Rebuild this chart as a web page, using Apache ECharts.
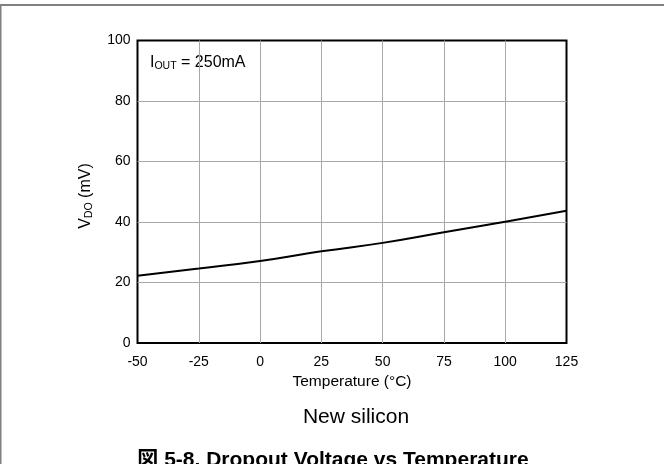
<!DOCTYPE html>
<html>
<head>
<meta charset="utf-8">
<script src="https://cdn.jsdelivr.net/npm/echarts@6/dist/echarts.min.js"></script>
<style>
html,body{margin:0;padding:0;background:#fff;}
#chart{width:664px;height:464px;}
</style>
</head>
<body>
<div id="chart"></div>
<script>
// data
let temps = [-50, -25, 0, 25, 50, 75, 100, 125];
let vdo = [22.2, 24.6, 27.1, 30.3, 33.1, 36.6, 40.1, 43.7];

let myChar = echarts.init(document.getElementById("chart"));
let font = "Liberation Sans, Arial, sans-serif";

myChar.setOption({
    backgroundColor: "#fff",
    animation: false,
    grid: {
        left: 137.5,
        right: 97.5,
        top: 40.5,
        bottom: 121,
        show: true,
        borderColor: "#000",
        borderWidth: 2
    },
    xAxis: {
        type: "value",
        min: -50,
        max: 125,
        interval: 25,
        name: "Temperature (°C)",
        nameLocation: "middle",
        nameGap: 30,
        nameTextStyle: {fontFamily: font, fontSize: 15.5, color: "#000"},
        axisLine: {show: false},
        axisTick: {show: false},
        axisLabel: {fontFamily: font, fontSize: 14, color: "#000", margin: 12},
        splitLine: {show: true, showMinLine: false, showMaxLine: false, lineStyle: {color: "#a8a8a8", width: 1}}
    },
    yAxis: {
        type: "value",
        min: 0,
        max: 100,
        interval: 20,
        axisLine: {show: false},
        axisTick: {show: false},
        axisLabel: {fontFamily: font, fontSize: 14, color: "#000", margin: 7},
        splitLine: {show: true, showMinLine: false, showMaxLine: false, lineStyle: {color: "#a8a8a8", width: 1}}
    },
    series: [{
        type: "line",
        data: temps.map((t, i) => [t, vdo[i]]),
        smooth: true,
        showSymbol: false,
        lineStyle: {color: "#000", width: 2},
        z: 5
    }],
    graphic: [
        // outer frame
        {type: "line", shape: {x1: 0, y1: 5, x2: 664, y2: 5}, style: {stroke: "#808080", lineWidth: 2}},
        {type: "line", shape: {x1: 0.75, y1: 4, x2: 0.75, y2: 464}, style: {stroke: "#808080", lineWidth: 1.5}},
        {
            type: "text", left: 150, top: 55,
            style: {
                text: "{a|I}{s|OUT}{a| = 250mA}",
                rich: {
                    a: {fontFamily: font, fontSize: 16, color: "#000", lineHeight: 18},
                    s: {fontFamily: font, fontSize: 10.5, color: "#000", lineHeight: 9, verticalAlign: "bottom", padding: [4, 0, 0, 0]}
                }
            }
        },
        {
            type: "text", x: 86, y: 196, rotation: Math.PI / 2,
            style: {
                text: "{a|V}{s|DO}{a| (mV)}",
                align: "center", verticalAlign: "middle",
                rich: {
                    a: {fontFamily: font, fontSize: 16, color: "#000", lineHeight: 18},
                    s: {fontFamily: font, fontSize: 10.5, color: "#000", lineHeight: 9, verticalAlign: "bottom", padding: [4, 0, 0, 0]}
                }
            }
        },
        {
            type: "text", x: 356, y: 417,
            style: {text: "New silicon", fontFamily: font, fontSize: 21, fill: "#000", align: "center", verticalAlign: "middle"}
        },
        {
            type: "text", x: 333, y: 450,
            style: {text: "図 5-8. Dropout Voltage vs Temperature", fontFamily: "Liberation Sans, Noto Sans CJK JP, sans-serif", fontWeight: "bold", fontSize: 21, fill: "#000", align: "center", verticalAlign: "top"}
        }
    ]
});
</script>
</body>
</html>
